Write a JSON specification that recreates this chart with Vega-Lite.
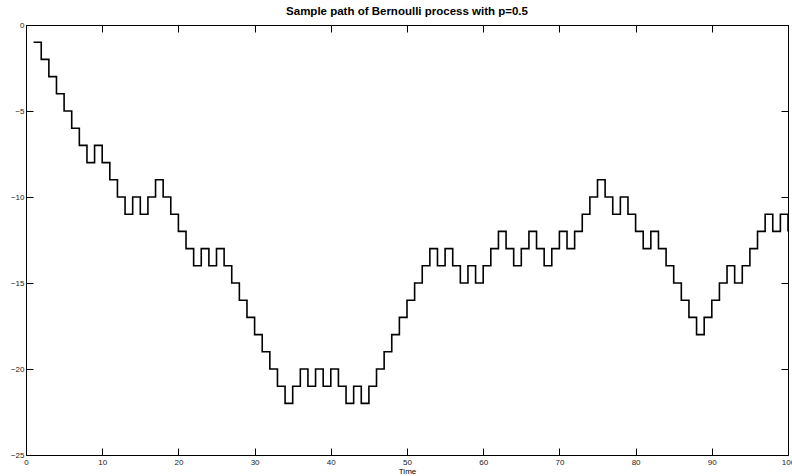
{
  "$schema": "https://vega.github.io/schema/vega-lite/v6.json",
  "autosize": {"type": "none"},
  "width": 762,
  "height": 430,
  "padding": {"left": 26, "top": 25, "right": 4, "bottom": 21},
  "background": "white",
  "title": {"text": "Sample path of Bernoulli process with p=0.5", "font": "Liberation Sans", "fontSize": 11.5, "fontWeight": "bold", "color": "black", "anchor": "middle", "offset": 4},
  "config": {
    "view": {"stroke": null},
    "axis": {"grid": false, "domainColor": "black", "domainWidth": 1, "tickColor": "black", "tickWidth": 1, "tickSize": -7, "labelFont": "Liberation Sans", "labelFontSize": 8, "labelColor": "#222222", "labelFlush": false, "labelOverlap": false, "titleFont": "Liberation Sans", "titleFontSize": 8, "titleFontWeight": "normal", "titleColor": "black"}
  },
  "data": {"values": [
    {"t":1,"v":-1},{"t":2,"v":-2},{"t":3,"v":-3},{"t":4,"v":-4},{"t":5,"v":-5},{"t":6,"v":-6},{"t":7,"v":-7},{"t":8,"v":-8},{"t":9,"v":-7},{"t":10,"v":-8},
    {"t":11,"v":-9},{"t":12,"v":-10},{"t":13,"v":-11},{"t":14,"v":-10},{"t":15,"v":-11},{"t":16,"v":-10},{"t":17,"v":-9},{"t":18,"v":-10},{"t":19,"v":-11},{"t":20,"v":-12},
    {"t":21,"v":-13},{"t":22,"v":-14},{"t":23,"v":-13},{"t":24,"v":-14},{"t":25,"v":-13},{"t":26,"v":-14},{"t":27,"v":-15},{"t":28,"v":-16},{"t":29,"v":-17},{"t":30,"v":-18},
    {"t":31,"v":-19},{"t":32,"v":-20},{"t":33,"v":-21},{"t":34,"v":-22},{"t":35,"v":-21},{"t":36,"v":-20},{"t":37,"v":-21},{"t":38,"v":-20},{"t":39,"v":-21},{"t":40,"v":-20},
    {"t":41,"v":-21},{"t":42,"v":-22},{"t":43,"v":-21},{"t":44,"v":-22},{"t":45,"v":-21},{"t":46,"v":-20},{"t":47,"v":-19},{"t":48,"v":-18},{"t":49,"v":-17},{"t":50,"v":-16},
    {"t":51,"v":-15},{"t":52,"v":-14},{"t":53,"v":-13},{"t":54,"v":-14},{"t":55,"v":-13},{"t":56,"v":-14},{"t":57,"v":-15},{"t":58,"v":-14},{"t":59,"v":-15},{"t":60,"v":-14},
    {"t":61,"v":-13},{"t":62,"v":-12},{"t":63,"v":-13},{"t":64,"v":-14},{"t":65,"v":-13},{"t":66,"v":-12},{"t":67,"v":-13},{"t":68,"v":-14},{"t":69,"v":-13},{"t":70,"v":-12},
    {"t":71,"v":-13},{"t":72,"v":-12},{"t":73,"v":-11},{"t":74,"v":-10},{"t":75,"v":-9},{"t":76,"v":-10},{"t":77,"v":-11},{"t":78,"v":-10},{"t":79,"v":-11},{"t":80,"v":-12},
    {"t":81,"v":-13},{"t":82,"v":-12},{"t":83,"v":-13},{"t":84,"v":-14},{"t":85,"v":-15},{"t":86,"v":-16},{"t":87,"v":-17},{"t":88,"v":-18},{"t":89,"v":-17},{"t":90,"v":-16},
    {"t":91,"v":-15},{"t":92,"v":-14},{"t":93,"v":-15},{"t":94,"v":-14},{"t":95,"v":-13},{"t":96,"v":-12},{"t":97,"v":-11},{"t":98,"v":-12},{"t":99,"v":-11},{"t":100,"v":-12}
  ]},
  "layer": [
    {
      "mark": {"type": "line", "interpolate": "step-after", "color": "black", "strokeWidth": 1.6},
      "encoding": {
        "x": {"field": "t", "type": "quantitative", "scale": {"domain": [0, 100], "nice": false, "zero": false}, "axis": {"orient": "bottom", "values": [0,10,20,30,40,50,60,70,80,90,100], "title": "Time", "labelPadding": 10, "titlePadding": 1}},
        "y": {"field": "v", "type": "quantitative", "scale": {"domain": [-25, 0], "nice": false}, "axis": {"orient": "left", "values": [-25,-20,-15,-10,-5,0], "title": null, "labelPadding": 9}}
      }
    },
    {
      "mark": {"type": "point", "opacity": 0},
      "encoding": {
        "x": {"field": "t", "type": "quantitative", "axis": {"orient": "top", "values": [0,10,20,30,40,50,60,70,80,90,100], "labels": false, "title": null}},
        "y": {"field": "v", "type": "quantitative", "axis": {"orient": "right", "values": [-25,-20,-15,-10,-5,0], "labels": false, "title": null}}
      }
    }
  ],
  "resolve": {"axis": {"x": "independent", "y": "independent"}}
}
